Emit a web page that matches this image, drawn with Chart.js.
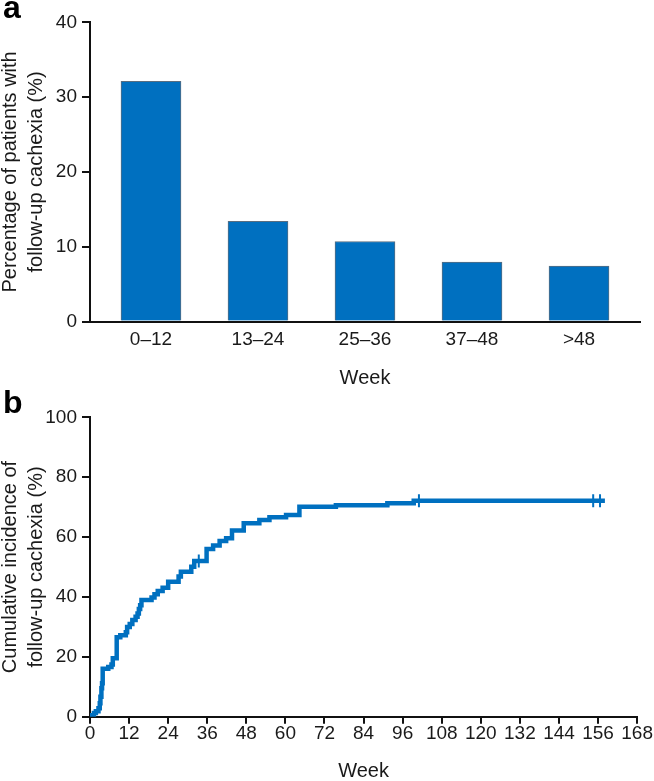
<!DOCTYPE html>
<html>
<head>
<meta charset="utf-8">
<script src="https://cdn.jsdelivr.net/npm/chart.js@4"></script>
<style>
  body { margin: 0; background: #fff; }
  #wrap { position: relative; width: 654px; height: 781px; font-family: "Liberation Sans", Arial, sans-serif; }
  .panel { position: absolute; left: 3px; font-weight: bold; font-size: 32px; line-height: 32px; color: #000; }
  canvas { position: absolute; left: 0; }
</style>
</head>
<body>
<div id="wrap">
  <canvas id="chartA" width="654" height="390" style="top:0"></canvas>
  <canvas id="chartB" width="654" height="391" style="top:390px"></canvas>
  <div class="panel" style="top:-9px">a</div>
  <div class="panel" style="top:386px">b</div>
</div>
<script>
// panel a - follow-up cachexia by week window
const weekBins = ["0–12", "13–24", "25–36", "37–48", ">48"];
const pctFollowUp = [32.1, 13.4, 10.7, 7.95, 7.4];

// panel b - cumulative incidence (step curve)
const kmWeeks = [0, 0.5, 1.2, 1.8, 2.6, 3.0, 3.2, 3.5, 3.7, 3.9, 5.6, 6.6, 7.0, 8.2, 9.3, 11.0, 11.4, 12.2, 13.0, 14.0, 14.6, 15.0, 15.4, 15.8, 18.9, 19.8, 20.8, 22.3, 24.0, 27.2, 27.9, 31.1, 32.0, 35.8, 37.8, 39.8, 41.8, 43.6, 47.2, 52.0, 55.1, 60.2, 64.3, 75.5, 91.3, 99.4, 158.1];
const kmIncidence = [0, 0.5, 1.2, 1.8, 2.8, 4.5, 6.7, 9.5, 11.2, 16.0, 16.6, 17.4, 19.5, 26.5, 27.2, 28.2, 30.0, 31.0, 32.3, 33.4, 34.5, 36.0, 37.2, 39.0, 39.8, 40.9, 42.0, 43.1, 45.1, 46.8, 48.4, 50.1, 52.0, 56.0, 57.2, 58.7, 59.6, 62.2, 64.6, 65.7, 66.6, 67.4, 70.1, 70.6, 71.3, 72.1, 72.1];
const censorWeeks = [33.4, 101.0, 154.5, 156.6];
const censorIncidence = [52.0, 72.1, 72.1, 72.1];

const blue = "#0070c0";
Chart.defaults.font.family = '"Liberation Sans", Arial, sans-serif';
Chart.defaults.font.size = 19;
Chart.defaults.color = "#1a1a1a";

const axisBorder = { color: "#111", width: 2 };
const titleFont = { size: 20, lineHeight: 1.3 };

new Chart(document.querySelector("#chartA"), {
  type: "bar",
  data: {
    datasets: [
      {
        data: pctFollowUp.map((v, i) => ({ x: i + 1, y: v })),
        backgroundColor: blue,
        borderColor: "#5a6e80",
        borderWidth: 1,
        barThickness: 60,
      },
    ],
  },
  options: {
    responsive: false,
    animation: false,
    layout: { padding: { top: 22.3, right: 14, left: 0, bottom: 0 } },
    plugins: { legend: { display: false }, tooltip: { enabled: false } },
    scales: {
      x: {
        type: "linear",
        offset: false,
        min: 0.43,
        max: 5.57,
        afterBuildTicks: (scale) => {
          scale.ticks = weekBins.map((b, i) => ({ value: i + 1 }));
        },
        afterFit: (scale) => { scale.height = 68.5; },
        ticks: {
          padding: 9,
          font: { lineHeight: 1 },
          maxRotation: 0,
          callback: (v) => weekBins[v - 1],
        },
        grid: { drawOnChartArea: false, drawTicks: false, offset: false },
        border: axisBorder,
        title: { display: true, text: "Week", font: { size: 20, lineHeight: 1 }, padding: { top: 0, bottom: 2 } },
      },
      y: {
        min: 0,
        max: 40,
        afterFit: (scale) => { scale.width = 90; },
        ticks: { stepSize: 10, padding: 5 },
        grid: { drawOnChartArea: false, tickLength: 8, lineWidth: 2, color: "#111" },
        border: axisBorder,
        title: {
          display: true,
          text: ["Percentage of patients with", "follow-up cachexia (%)"],
          font: titleFont,
          padding: { top: -3, bottom: 0 },
        },
      },
    },
  },
});

new Chart(document.querySelector("#chartB"), {
  type: "line",
  data: {
    datasets: [
      {
        data: kmWeeks.map((w, i) => ({ x: w, y: kmIncidence[i] })),
        borderColor: blue,
        borderWidth: 4.5,
        stepped: true,
        pointRadius: 0,
        fill: false,
      },
      {
        data: censorWeeks.map((w, i) => ({ x: w, y: censorIncidence[i] })),
        showLine: false,
        pointStyle: "line",
        rotation: 90,
        pointRadius: 6.5,
        pointBorderWidth: 2,
        pointBorderColor: blue,
      },
    ],
  },
  options: {
    responsive: false,
    animation: false,
    layout: { padding: { top: 27.3, right: 14.7, left: 0, bottom: 0 } },
    plugins: { legend: { display: false }, tooltip: { enabled: false } },
    scales: {
      x: {
        type: "linear",
        min: 0,
        max: 168,
        afterFit: (scale) => { scale.height = 64.3; },
        ticks: { stepSize: 12, padding: 1, font: { lineHeight: 1 }, maxRotation: 0, autoSkip: false },
        grid: { drawOnChartArea: false, tickLength: 7, lineWidth: 2, color: "#111" },
        border: axisBorder,
        title: { display: true, text: "Week", font: { size: 20, lineHeight: 1 }, padding: { top: 0, bottom: 0 } },
      },
      y: {
        min: 0,
        max: 100,
        afterFit: (scale) => { scale.width = 90; },
        ticks: { stepSize: 20, padding: 5 },
        grid: { drawOnChartArea: false, tickLength: 8, lineWidth: 2, color: "#111" },
        border: axisBorder,
        title: {
          display: true,
          text: ["Cumulative incidence of", "follow-up cachexia (%)"],
          font: titleFont,
          padding: { top: -3, bottom: 0 },
        },
      },
    },
  },
});
</script>
</body>
</html>
